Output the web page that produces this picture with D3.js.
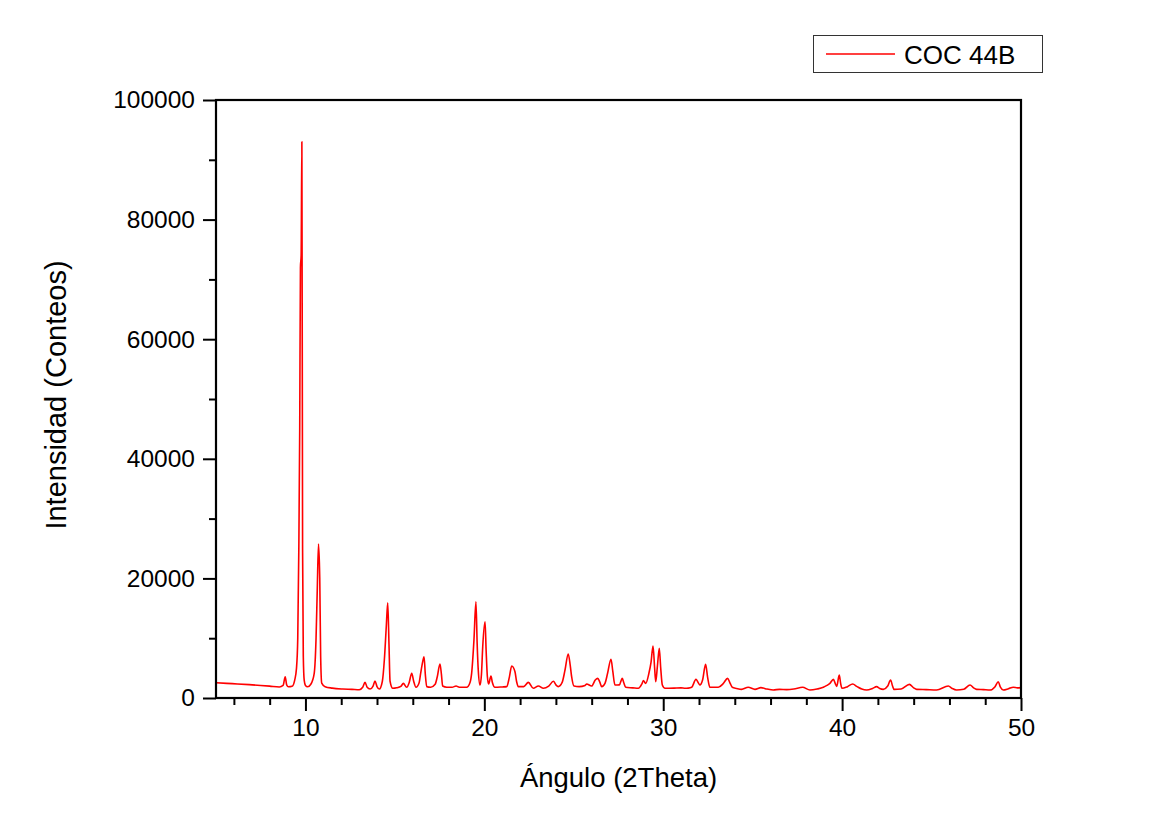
<!DOCTYPE html>
<html>
<head>
<meta charset="utf-8">
<script src="https://cdn.jsdelivr.net/npm/d3@7"></script>
<style>
  body { margin: 0; background: #fff; }
  svg { display: block; font-family: "Liberation Sans", Arial, sans-serif; }
</style>
</head>
<body>
<svg id="canvas" width="1169" height="832"></svg>
<script>
'use strict';

const angle2Theta = [
  5.00, 5.6, 6.2, 6.86, 7.5, 8.0, 8.54, 8.75, 8.87, 8.95, 9.05, 9.25, 9.40, 9.50,
  9.57, 9.63, 9.68, 9.72, 9.76, 9.80, 9.84, 9.88, 9.93, 10.0, 10.12, 10.3, 10.49,
  10.59, 10.66, 10.73, 10.80, 10.85, 10.91, 11.1, 11.5, 12.08, 12.6, 13.01, 13.2,
  13.33, 13.45, 13.61, 13.78, 13.89, 14.0, 14.13, 14.3, 14.41, 14.52, 14.60, 14.67,
  14.73, 14.88, 15.10, 15.35, 15.47, 15.66, 15.80, 15.94, 16.05, 16.18, 16.35,
  16.44, 16.55, 16.63, 16.70, 16.78, 17.0, 17.25, 17.37, 17.52, 17.60, 17.67,
  17.90, 18.2, 18.42, 18.6, 19.01, 19.2, 19.29, 19.42, 19.53, 19.60, 19.66, 19.76,
  19.84, 19.91, 20.04, 20.10, 20.17, 20.24, 20.37, 20.45, 20.59, 21.0, 21.25,
  21.40, 21.53, 21.71, 21.80, 21.90, 22.2, 22.46, 22.74, 23.02, 23.30, 23.6, 23.86,
  24.0, 24.13, 24.35, 24.51, 24.69, 24.80, 24.88, 25.01, 25.3, 25.63, 25.72, 26.00,
  26.20, 26.34, 26.45, 26.56, 26.75, 26.89, 27.08, 27.18, 27.30, 27.55, 27.71,
  27.80, 27.90, 28.3, 28.61, 28.80, 28.89, 29.02, 29.20, 29.32, 29.43, 29.52, 29.58,
  29.68, 29.78, 29.86, 29.95, 30.10, 30.6, 31.0, 31.22, 31.40, 31.59, 31.83, 31.95,
  32.05, 32.2, 32.37, 32.48, 32.61, 33.08, 33.35, 33.60, 33.75, 33.86, 34.1, 34.38,
  34.75, 35.13, 35.46, 35.8, 36.15, 36.5, 36.9, 37.3, 37.79, 38.20, 38.6, 38.95,
  39.15, 39.32, 39.51, 39.62, 39.70, 39.84, 39.92, 39.99, 40.3, 40.59, 40.84, 41.1,
  41.37, 41.7, 41.93, 42.10, 42.30, 42.55, 42.71, 42.82, 42.90, 43.3, 43.76, 44.0,
  44.17, 44.7, 45.28, 45.94, 46.15, 46.40, 46.8, 47.15, 47.35, 47.52, 47.9, 48.27,
  48.55, 48.73, 48.85, 49.01, 49.3, 49.57, 49.8, 50.0
];

const counts = [
  2560, 2450, 2350, 2230, 2100, 1980, 1840, 2100, 3560, 2200, 1870, 1950, 3000, 5000,
  10000, 25000, 45000, 72000, 74000, 93000, 25000, 7000, 3000, 2100, 1870, 2300, 4130,
  9700, 18000, 25750, 20000, 7000, 2500, 1900, 1650, 1500, 1450, 1390, 1800,
  2620, 1800, 1500, 2000, 2840, 1900, 1500, 2800, 6350, 12000, 15940, 9000,
  2800, 1620, 1700, 2000, 2450, 1790, 2600, 4130, 2800, 1790, 2500,
  4130, 6000, 6910, 4000, 1900, 1800, 2300, 3560, 5690, 4000, 2000,
  1790, 1800, 2000, 1800, 1790, 2600, 4130, 9700, 16100, 9000, 4700, 2170,
  4000, 8580, 12760, 8000, 3560, 2340, 3680, 2600, 1790, 1850, 1900,
  3500, 5350, 4430, 2800, 1900, 1900, 2620, 1620, 2000, 1620, 2000, 2790,
  2200, 1900, 2600, 4680, 7360, 5500, 3560, 2000, 1900, 2100, 2340, 2000,
  3000, 3290, 2700, 1900, 2500, 4130, 6470, 4500, 2170, 2200, 3290,
  2500, 1790, 1700, 1620, 2300, 2900, 2450, 4130, 6000, 8690, 5000, 2730,
  5500, 8300, 5000, 2170, 1620, 1650, 1700, 1620, 1650, 1790, 3120, 2600,
  2170, 3000, 5630, 3500, 1790, 1790, 2400, 3290, 2400, 1790, 1600, 1450,
  1790, 1450, 1730, 1500, 1340, 1450, 1400, 1500, 1790, 1340, 1500, 1780,
  2100, 2450, 3120, 2400, 1950, 3840, 2400, 1620, 1900, 2340, 1900, 1500,
  1340, 1600, 1900, 1600, 1450, 2000, 3010, 2000, 1450, 1500, 2280, 1700,
  1450, 1400, 1340, 2000, 1600, 1340, 1450, 2170, 1700, 1450, 1400, 1340,
  1900, 2730, 1800, 1340, 1550, 1790, 1700, 1730
];

const xTicks = [10, 20, 30, 40, 50];
const xMinorTicks = [6, 8, 12, 14, 16, 18, 22, 24, 26, 28, 32, 34, 36, 38, 42, 44, 46, 48];
const yTicks = [0, 20000, 40000, 60000, 80000, 100000];
const yMinorTicks = [10000, 30000, 50000, 70000, 90000];
const seriesName = 'COC 44B';

(function() {

function Main() {
  const kLeft = 216;
  const kRight = 1021;
  const kTop = 100;
  const kBottom = 698;
  const kRed = '#ff0000';

  const svg = d3.select('#canvas');

  const x = d3.scaleLinear().domain([5, 50]).range([kLeft, kRight]);
  const y = d3.scaleLinear().domain([0, 100000]).range([kBottom, kTop]);

  const points = angle2Theta.map(function(a, i) {
    return [a, counts[i]];
  });

  // spectrum
  const line = d3.line()
      .x(function(d) { return x(d[0]); })
      .y(function(d) { return y(d[1]); })
      .curve(d3.curveMonotoneX);

  svg.append('path')
      .datum(points)
      .attr('fill', 'none')
      .attr('stroke', kRed)
      .attr('stroke-width', 1.6)
      .attr('stroke-linejoin', 'round')
      .attr('d', line);

  // minor ticks
  svg.append('g')
      .attr('transform', 'translate(0,' + kBottom + ')')
      .call(d3.axisBottom(x).tickValues(xMinorTicks).tickSize(7).tickFormat(''))
      .call(function(g) { g.select('.domain').remove(); })
      .selectAll('line').attr('stroke-width', 2);

  svg.append('g')
      .attr('transform', 'translate(' + kLeft + ',0)')
      .call(d3.axisLeft(y).tickValues(yMinorTicks).tickSize(7).tickFormat(''))
      .call(function(g) { g.select('.domain').remove(); })
      .selectAll('line').attr('stroke-width', 2);

  // major ticks + labels
  const xAxis = svg.append('g')
      .attr('transform', 'translate(0,' + kBottom + ')')
      .call(d3.axisBottom(x).tickValues(xTicks).tickSize(13).tickPadding(8).tickFormat(d3.format('d')));
  xAxis.select('.domain').remove();
  xAxis.selectAll('line').attr('stroke-width', 2);
  xAxis.selectAll('text')
      .attr('font-size', 24.5)
      .attr('font-family', '"Liberation Sans", Arial, sans-serif')
      .attr('fill', '#000');

  const yAxis = svg.append('g')
      .attr('transform', 'translate(' + kLeft + ',0)')
      .call(d3.axisLeft(y).tickValues(yTicks).tickSize(13).tickPadding(8).tickFormat(d3.format('d')));
  yAxis.select('.domain').remove();
  yAxis.selectAll('line').attr('stroke-width', 2);
  yAxis.selectAll('text')
      .attr('font-size', 24.5)
      .attr('font-family', '"Liberation Sans", Arial, sans-serif')
      .attr('fill', '#000');

  // frame
  svg.append('rect')
      .attr('x', kLeft)
      .attr('y', kTop)
      .attr('width', kRight - kLeft)
      .attr('height', kBottom - kTop)
      .attr('fill', 'none')
      .attr('stroke', '#000')
      .attr('stroke-width', 2.2);

  // axis titles
  svg.append('text')
      .attr('x', (kLeft + kRight) / 2)
      .attr('y', 787)
      .attr('text-anchor', 'middle')
      .attr('font-size', 27.5)
      .text('Ángulo (2Theta)');

  svg.append('text')
      .attr('transform', 'translate(66,' + ((kTop + kBottom) / 2 - 4) + ') rotate(-90)')
      .attr('text-anchor', 'middle')
      .attr('font-size', 29)
      .text('Intensidad (Conteos)');

  // legend
  const legend = svg.append('g');
  legend.append('rect')
      .attr('x', 813.5)
      .attr('y', 35.5)
      .attr('width', 229)
      .attr('height', 37)
      .attr('fill', '#fff')
      .attr('stroke', '#333')
      .attr('stroke-width', 1);
  legend.append('line')
      .attr('x1', 826)
      .attr('x2', 895)
      .attr('y1', 54)
      .attr('y2', 54)
      .attr('stroke', kRed)
      .attr('stroke-width', 1.6);
  legend.append('text')
      .attr('x', 904)
      .attr('y', 63.5)
      .attr('font-size', 26)
      .text(seriesName);
}

Main();

}) ();
</script>
</body>
</html>
